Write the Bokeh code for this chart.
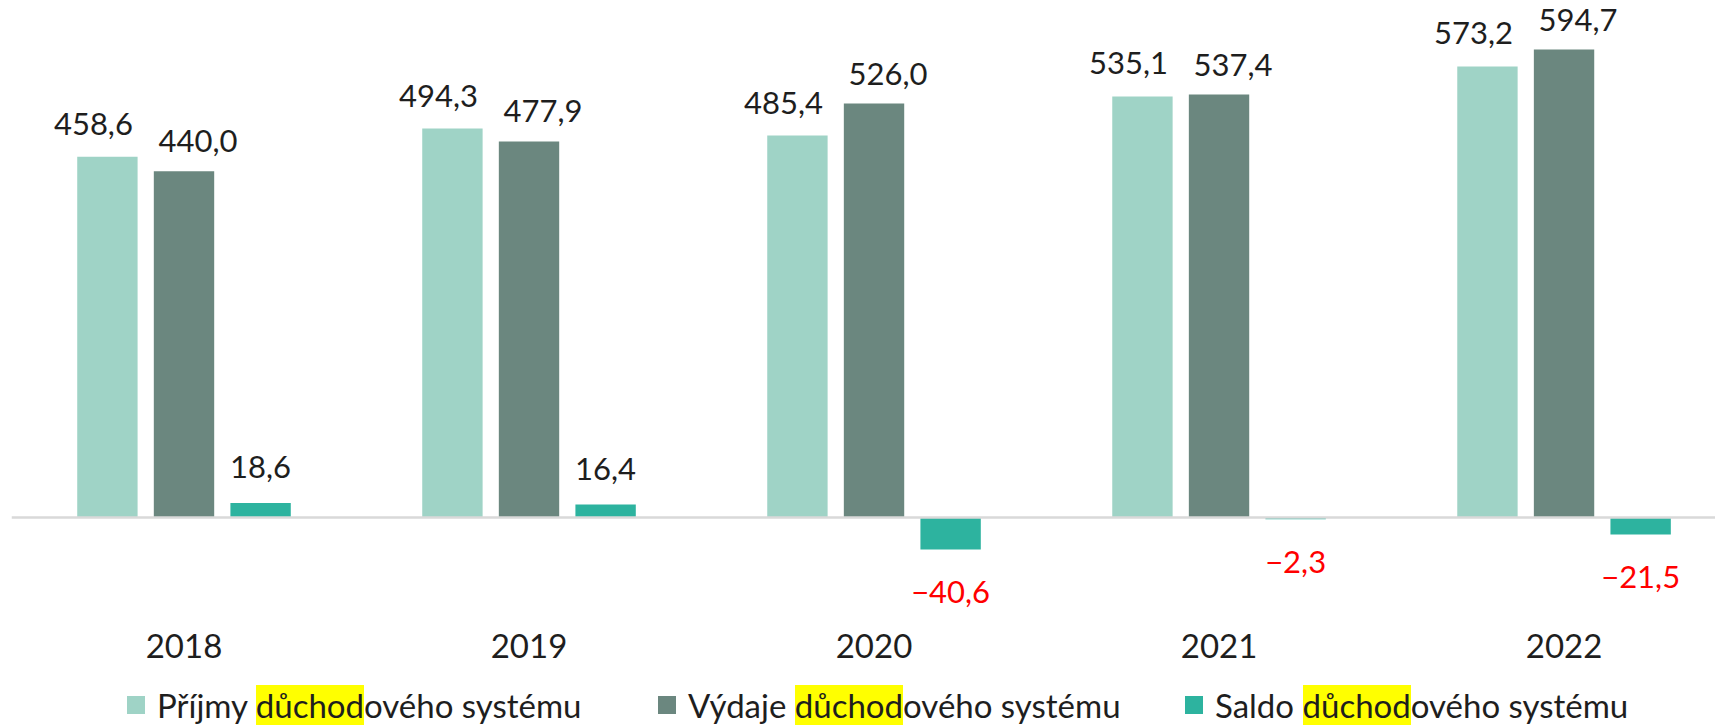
import numpy as np
from bokeh.plotting import figure
from bokeh.models import ColumnDataSource, Span, FixedTicker, Range1d, Div
from bokeh.layouts import column
from bokeh.core.properties import value
from bokeh.embed import file_html
from bokeh.resources import INLINE

years = ["2018", "2019", "2020", "2021", "2022"]
prijmy = [458.6, 494.3, 485.4, 535.1, 573.2]
vydaje = [440.0, 477.9, 526.0, 537.4, 594.7]
saldo = [18.6, 16.4, -40.6, -2.3, -21.5]
series_names = ["Příjmy důchodového systému", "Výdaje důchodového systému", "Saldo důchodového systému"]
colors = ["#9fd3c6", "#6b877f", "#2db39f"]

FONT = "Lato"

def fmt(v):
    return f"{v:.1f}".replace(".", ",").replace("-", "\u2212")

p = figure(width=1715, height=677, output_backend="svg", toolbar_location=None,
           x_range=Range1d(-0.5, 4.439), y_range=Range1d(-133.4, 657.0),
           y_axis_location=None, min_border_left=11, min_border_right=0,
           min_border_top=0, min_border_bottom=55)
p.outline_line_color = None
p.xgrid.visible = False
p.ygrid.visible = False
p.background_fill_color = "white"

idx = np.arange(len(years))
dodge = 0.222
bw = 0.175
series = [prijmy, vydaje, saldo]
offsets = [-dodge, 0.0, dodge]
for vals, off, col in zip(series, offsets, colors):
    src = ColumnDataSource(dict(x=idx + off, top=vals))
    p.vbar(x="x", top="top", bottom=0, width=bw, source=src, fill_color=col, line_color=None)

zero = Span(location=0, dimension="width", line_color="#d9d9d9", line_width=2.5)
p.add_layout(zero)

# value labels
label_style = [(-14, -33), (14, -30)]
for vals, off, (dx, dy) in zip([prijmy, vydaje], offsets[:2], label_style):
    src = ColumnDataSource(dict(x=idx + off, y=vals, t=[fmt(v) for v in vals]))
    p.text(x="x", y="y", text="t", source=src, x_offset=dx, y_offset=dy,
           text_align="center", text_baseline="middle", text_font=value(FONT),
           text_font_size="31px", text_color="#1e1e1e")

s_dy = [-36 if v >= 0 else 43 for v in saldo]
s_col = ["#1e1e1e" if v >= 0 else "#ff0000" for v in saldo]
src = ColumnDataSource(dict(x=idx + dodge, y=saldo, t=[fmt(v) for v in saldo], dy=s_dy, c=s_col))
p.text(x="x", y="y", text="t", source=src, y_offset="dy", text_color="c",
       text_align="center", text_baseline="middle", text_font=value(FONT),
       text_font_size="31px")

p.xaxis.ticker = FixedTicker(ticks=list(range(len(years))))
p.xaxis.major_label_overrides = {i: y for i, y in enumerate(years)}
p.xaxis.axis_line_color = None
p.xaxis.major_tick_line_color = None
p.xaxis.minor_tick_line_color = None
p.xaxis.major_label_text_font = FONT
p.xaxis.major_label_text_font_size = "33px"
p.xaxis.major_label_text_color = "#1e1e1e"
p.xaxis.major_label_standoff = 5

sq_left = [127, 658, 1185]
items = []
for name, col, left in zip(series_names, colors, sq_left):
    html_name = name.replace("důchod", '<span style="background:#ffff00;">důchod</span>')
    items.append(
        f'<div style="position:absolute;left:{left}px;top:19px;width:18px;height:18px;background:{col};"></div>'
        f'<div style="position:absolute;left:{left + 30}px;top:9px;line-height:38px;white-space:nowrap;">{html_name}</div>'
    )
legend_html = (f'<div style="position:relative;width:1715px;height:39px;font-family:{FONT};'
               f'font-size:33px;color:#1e1e1e;">' + "".join(items) + '</div>')
legend = Div(text=legend_html, width=1715, height=39, margin=(0, 0, 0, 0))

layout = column(p, legend, spacing=0)
open("out.html", "w").write(file_html(layout, INLINE))
